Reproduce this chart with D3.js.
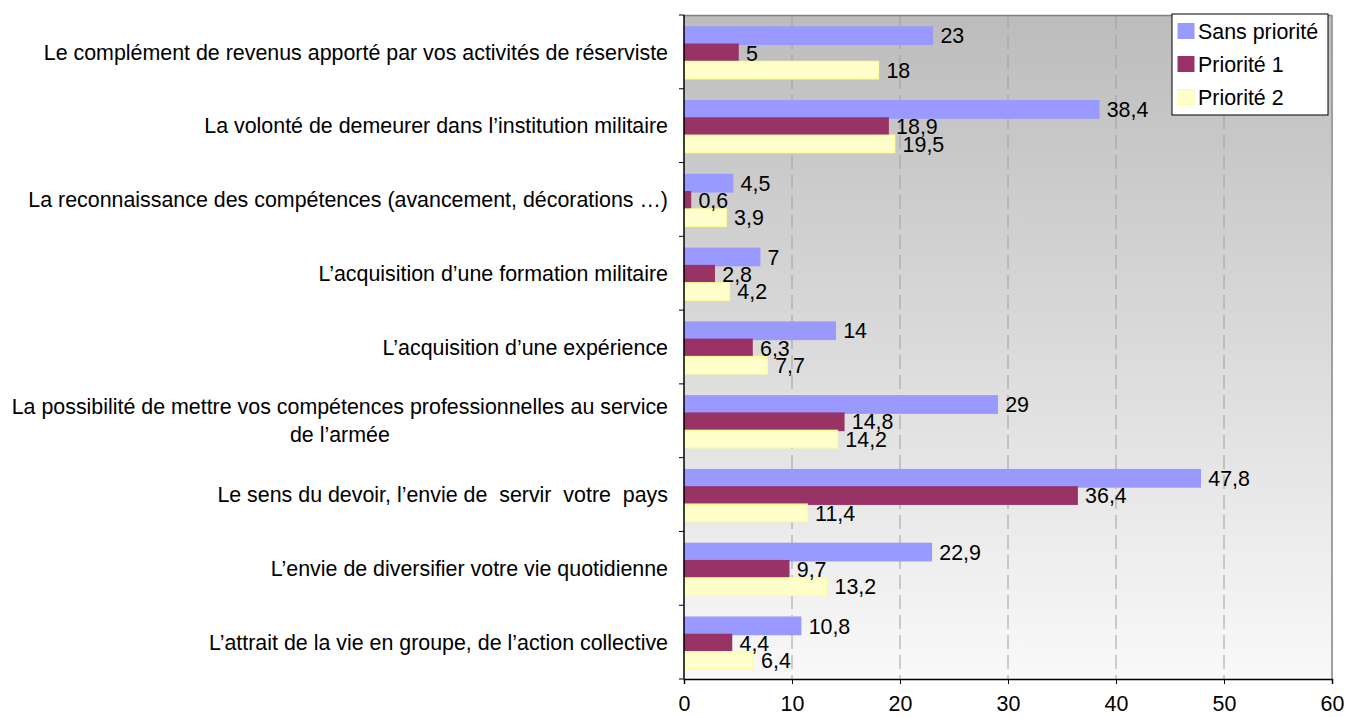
<!DOCTYPE html>
<html>
<head>
<meta charset="utf-8">
<script src="https://cdn.jsdelivr.net/npm/d3@7"></script>
<style>
  body { margin: 0; background: #fff; }
  text { font-family: "Liberation Sans", Arial, sans-serif; fill: #000; }
</style>
</head>
<body>
<div id="chart"></div>
<script>
// data, top to bottom as in the picture
var categories = [
  "Le complément de revenus apporté par vos activités de réserviste",
  "La volonté de demeurer dans l\u2019institution militaire",
  "La reconnaissance des compétences (avancement, décorations \u2026)",
  "L\u2019acquisition d\u2019une formation militaire",
  "L\u2019acquisition d\u2019une expérience",
  "La possibilité de mettre vos compétences professionnelles au service|de l\u2019armée",
  "Le sens du devoir, l\u2019envie de  servir  votre  pays",
  "L\u2019envie de diversifier votre vie quotidienne",
  "L\u2019attrait de la vie en groupe, de l\u2019action collective"
];
var seriesNames = ["Sans priorité", "Priorité 1", "Priorité 2"];
var sansPriorite = [23, 38.4, 4.5, 7, 14, 29, 47.8, 22.9, 10.8];
var priorite1 = [5, 18.9, 0.6, 2.8, 6.3, 14.8, 36.4, 9.7, 4.4];
var priorite2 = [18, 19.5, 3.9, 4.2, 7.7, 14.2, 11.4, 13.2, 6.4];
var xTicks = [0, 10, 20, 30, 40, 50, 60];

var fills = ["#9999ff", "#993366", "#ffffcc"];
var strokes = ["#9999ff", "#993366", "#ffff99"];
var fs = "21.4px";

var width = 1347, height = 718;
var margin = {top: 15, right: 15, bottom: 39, left: 684};
var innerW = width - margin.left - margin.right,
    innerH = height - margin.top - margin.bottom;

var svg = d3.select("#chart").append("svg")
    .attr("width", width)
    .attr("height", height);

var defs = svg.append("defs");
var grad = defs.append("linearGradient")
    .attr("id", "bg").attr("x1", 0).attr("y1", 0).attr("x2", 0).attr("y2", 1);
grad.append("stop").attr("offset", "0%").attr("stop-color", "#bcbcbc");
grad.append("stop").attr("offset", "100%").attr("stop-color", "#f9f9f9");

var g = svg.append("g")
    .attr("transform", "translate(" + margin.left + "," + margin.top + ")");

var x = d3.scaleLinear().domain([0, 60]).range([0, innerW]);
var y = d3.scaleBand().domain(d3.range(categories.length)).range([0, innerH]);
var ySub = d3.scaleBand().domain([0, 1, 2]).range([12, y.bandwidth() - 10]);

// plot background
g.append("rect")
    .attr("width", innerW).attr("height", innerH)
    .attr("fill", "url(#bg)");

// dashed vertical grid
g.selectAll(".grid")
  .data(xTicks.slice(1, -1))
  .join("line")
    .attr("x1", d => x(d)).attr("x2", d => x(d))
    .attr("y1", 0).attr("y2", innerH)
    .attr("stroke", "#a0a0a0")
    .attr("stroke-width", 1)
    .attr("stroke-dasharray", "14,6");

// borders (top and right)
g.append("line").attr("x1", 0).attr("x2", innerW).attr("y1", 0.5).attr("y2", 0.5)
    .attr("stroke", "#808080").attr("stroke-width", 1.5);
g.append("line").attr("x1", innerW).attr("x2", innerW).attr("y1", 0).attr("y2", innerH)
    .attr("stroke", "#a0a0a0").attr("stroke-width", 2);

var series = [sansPriorite, priorite1, priorite2];
var fmt = v => String(v).replace(".", ",");

series.forEach(function(vals, s) {
  g.append("g").selectAll("rect")
    .data(vals)
    .join("rect")
      .attr("x", 0.5)
      .attr("y", (d, i) => y(i) + ySub(s))
      .attr("width", d => Math.max(0, x(d) - 0.5))
      .attr("height", ySub.bandwidth())
      .attr("fill", fills[s])
      .attr("stroke", strokes[s])
      .attr("stroke-width", 1.5);
});

series.forEach(function(vals, s) {
  g.append("g").selectAll("text")
    .data(vals)
    .join("text")
      .attr("x", d => x(d) + 8)
      .attr("y", (d, i) => y(i) + ySub(s) + ySub.bandwidth() / 2)
      .attr("dy", "0.36em")
      .attr("font-size", fs)
      .text(d => fmt(d));
});

// x axis
var xAxis = g.append("g")
    .attr("transform", "translate(0," + innerH + ")")
    .call(d3.axisBottom(x).tickValues(xTicks).tickSize(5).tickPadding(12));
xAxis.select(".domain").attr("stroke", "#000").attr("stroke-width", 1.5);
xAxis.selectAll(".tick line").attr("stroke", "#000");
xAxis.selectAll(".tick text").attr("font-size", fs)
    .attr("font-family", "Liberation Sans, Arial, sans-serif");

// y axis: line plus ticks at band boundaries
g.append("line").attr("x1", 0).attr("x2", 0).attr("y1", 0).attr("y2", innerH)
    .attr("stroke", "#000").attr("stroke-width", 1.5);
g.selectAll(".ytick")
  .data(d3.range(categories.length + 1))
  .join("line")
    .attr("x1", -5).attr("x2", 0)
    .attr("y1", d => d === categories.length ? innerH : y(d))
    .attr("y2", d => d === categories.length ? innerH : y(d))
    .attr("stroke", "#000");

// category labels (wrapped ones are centred within the block)
categories.forEach(function(c, i) {
  var lines = c.split("|");
  var cy = y(i) + y.bandwidth() / 2;
  var lh = 28;
  var t = g.append("text")
      .attr("font-size", fs)
      .attr("text-anchor", lines.length > 1 ? "middle" : "end")
      .attr("xml:space", "preserve");
  if (lines.length === 1) {
    t.attr("x", -16).attr("y", cy).attr("dy", "0.36em").text(c);
  } else {
    lines.forEach(function(l, k) {
      t.append("tspan")
        .attr("y", cy + (k - (lines.length - 1) / 2) * lh)
        .attr("dy", "0.36em")
        .text(l);
    });
    var wMax = d3.max(t.selectAll("tspan").nodes(), n => n.getComputedTextLength());
    t.selectAll("tspan").attr("x", -16 - wMax / 2);
  }
});

// legend
var lg = svg.append("g").attr("transform", "translate(1172,14)");
lg.append("rect").attr("width", 156).attr("height", 101)
    .attr("fill", "#fff").attr("stroke", "#000").attr("stroke-width", 1);
seriesNames.forEach(function(n, i) {
  var row = lg.append("g").attr("transform", "translate(6," + (17 + i * 33) + ")");
  row.append("rect").attr("x", 0).attr("y", -7.5).attr("width", 16).attr("height", 15)
      .attr("fill", fills[i]).attr("stroke", strokes[i]).attr("stroke-width", 1);
  row.append("text").attr("x", 20).attr("y", 0).attr("dy", "0.36em")
      .attr("font-size", fs).text(n);
});
</script>
</body>
</html>
